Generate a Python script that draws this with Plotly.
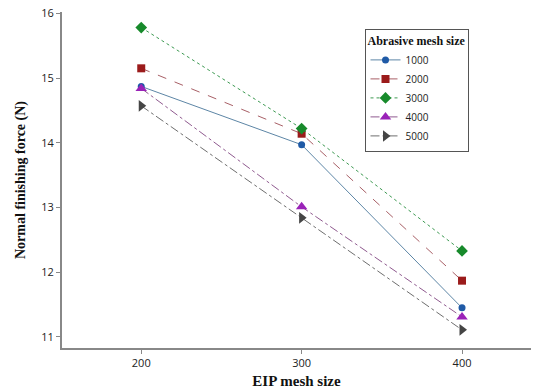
import plotly.graph_objects as go

eip_mesh = [200, 300, 400]
series_names = ["1000", "2000", "3000", "4000", "5000"]
force_1000 = [14.87, 13.97, 11.45]
force_2000 = [15.15, 14.14, 11.87]
force_3000 = [15.78, 14.22, 12.33]
force_4000 = [14.84, 13.01, 11.31]
force_5000 = [14.57, 12.84, 11.11]

values = [force_1000, force_2000, force_3000, force_4000, force_5000]
marker_colors = ["#1f5aa6", "#9b1b1b", "#178a2b", "#9a22b8", "#454545"]
line_colors = ["#5d86a6", "#a85f66", "#3d9a52", "#8f5a8f", "#6e6e6e"]
dashes = ["solid", "dash", "dot", "dashdot", "dashdot"]
symbols = ["circle", "square", "diamond", "triangle-up", "triangle-right"]
sizes = [7, 8, 9, 10, 10]

fig = go.Figure()
for name, y, mc, lc, d, s, sz in zip(series_names, values, marker_colors, line_colors, dashes, symbols, sizes):
    fig.add_trace(go.Scatter(
        x=eip_mesh, y=y, name=name, mode="lines+markers",
        line=dict(color=lc, width=1, dash=d),
        marker=dict(color=mc, symbol=s, size=sz),
    ))

fig.update_layout(
    width=534, height=390,
    margin=dict(l=62, r=3, t=12, b=42),
    paper_bgcolor="white", plot_bgcolor="white",
    font=dict(family="Open Sans, DejaVu Sans, sans-serif", size=11, color="#222"),
    legend=dict(
        title=dict(text="<b>Abrasive mesh size</b>", font=dict(family="Liberation Serif, Times New Roman, serif", size=12, color="#111")),
        x=0.645, y=0.95, xanchor="left", yanchor="top",
        bordercolor="#555", borderwidth=1, bgcolor="white",
        font=dict(size=10, color="#222"),
        tracegroupgap=0, itemwidth=30,
    ),
    xaxis=dict(
        range=[150.6, 443], tickvals=eip_mesh, showgrid=False, zeroline=False,
        showline=True, linecolor="#888", linewidth=2, ticks="outside", ticklen=4, tickcolor="#888",
        title=dict(text="<b>EIP mesh size</b>", font=dict(family="Liberation Serif, Times New Roman, serif", size=15, color="#111"), standoff=6),
    ),
    yaxis=dict(
        range=[10.83, 16.02], tickvals=[11, 12, 13, 14, 15, 16], showgrid=False, zeroline=False,
        showline=True, linecolor="#888", linewidth=2, ticks="outside", ticklen=4, tickcolor="#888",
        title=dict(text="<b>Normal finishing force (N)</b>", font=dict(family="Liberation Serif, Times New Roman, serif", size=14, color="#111"), standoff=12),
    ),
)

fig.write_html("out.html")
